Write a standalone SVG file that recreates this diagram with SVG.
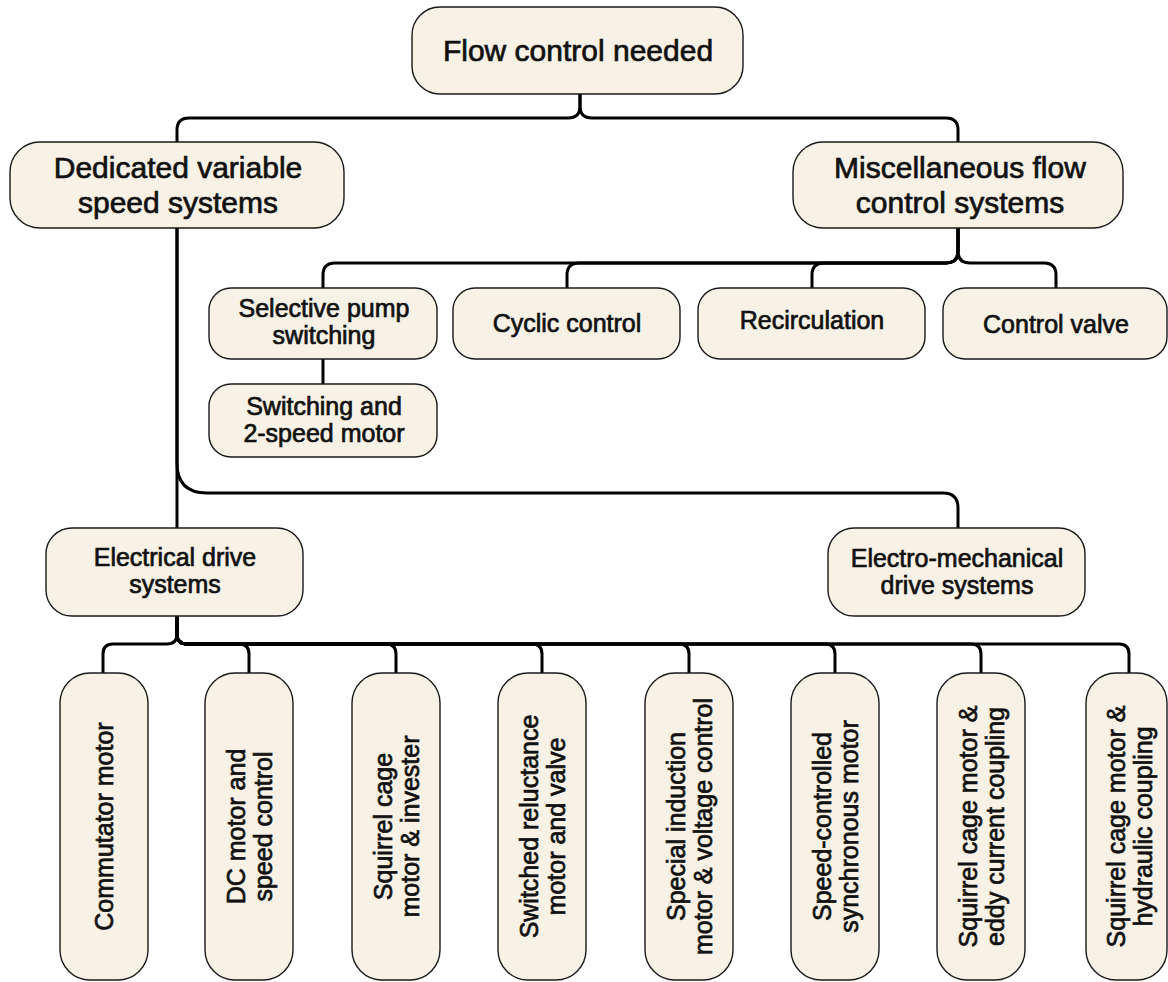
<svg xmlns="http://www.w3.org/2000/svg" width="1168" height="982" viewBox="0 0 1168 982">
  <style>
    .box { fill: #F8F2E6; stroke: #1a1a1a; stroke-width: 1.4; }
    .edge { fill: none; stroke: #000; stroke-width: 3; stroke-linejoin: round; }
    text { font-family: "Liberation Sans", Arial, Helvetica, sans-serif; fill: #111; text-anchor: middle; stroke: #111; stroke-width: 0.7; }
    .l1 { font-size: 30px; }
    .l2 { font-size: 25px; }
  </style>
  <rect width="1168" height="982" fill="#fff"/>

  <!-- connectors -->
  <g id="connectors" class="edge">
    <!-- root to the two main branches -->
    <path d="M580 94 V106 Q580 118 568 118 H189 Q177 118 177 130 V142"/>
    <path d="M580 94 V106 Q580 118 592 118 H946 Q958 118 958 130 V142"/>
    <!-- dedicated variable speed systems -->
    <path d="M177 228 V528"/>
    <path d="M177 228 V463 Q177 493 207 493 H943 Q958 493 958 508 V528"/>
    <!-- miscellaneous flow control systems -->
    <path d="M958 228 V251 Q958 263 946 263 H335 Q323 263 323 275 V288"/>
    <path d="M958 228 V251 Q958 263 946 263 H579 Q567 263 567 275 V288"/>
    <path d="M958 228 V251 Q958 263 946 263 H824 Q812 263 812 275 V288"/>
    <path d="M958 228 V251 Q958 263 970 263 H1044 Q1056 263 1056 275 V288"/>
    <path d="M323 359 V384"/>
    <!-- electrical drive systems -->
    <path d="M177 616 V634 Q177 644 167 644 H113 Q103 644 103 654 V673"/>
    <path d="M177 616 V634 Q177 644 187 644 H239 Q249 644 249 654 V673"/>
    <path d="M177 616 V634 Q177 644 187 644 H386 Q396 644 396 654 V673"/>
    <path d="M177 616 V634 Q177 644 187 644 H532 Q542 644 542 654 V673"/>
    <path d="M177 616 V634 Q177 644 187 644 H679 Q689 644 689 654 V673"/>
    <path d="M177 616 V634 Q177 644 187 644 H825 Q835 644 835 654 V673"/>
    <path d="M177 616 V634 Q177 644 187 644 H971 Q981 644 981 654 V673"/>
    <path d="M177 616 V634 Q177 644 187 644 H1119 Q1129 644 1129 654 V673"/>
  </g>

  <!-- level 0 -->
  <g id="flow-control-needed">
    <rect class="box" x="412" y="7" width="331" height="87" rx="28"/>
    <text class="l1" x="578" y="61">Flow control needed</text>
  </g>

  <!-- level 1 -->
  <g id="dedicated-variable-speed">
    <rect class="box" x="10" y="142" width="334" height="86" rx="30"/>
    <text class="l1" x="178" y="178">Dedicated variable</text>
    <text class="l1" x="178" y="213">speed systems</text>
  </g>
  <g id="misc-flow-control">
    <rect class="box" x="793" y="142" width="330" height="86" rx="30"/>
    <text class="l1" x="960" y="178">Miscellaneous flow</text>
    <text class="l1" x="960" y="213">control systems</text>
  </g>

  <!-- miscellaneous methods -->
  <g id="selective-pump-switching">
    <rect class="box" x="209" y="288" width="228" height="71" rx="22"/>
    <text class="l2" x="324" y="317">Selective pump</text>
    <text class="l2" x="324" y="344">switching</text>
  </g>
  <g id="switching-2-speed">
    <rect class="box" x="209" y="384" width="228" height="73" rx="22"/>
    <text class="l2" x="324" y="415">Switching and</text>
    <text class="l2" x="324" y="442">2-speed motor</text>
  </g>
  <g id="cyclic-control">
    <rect class="box" x="453" y="288" width="227" height="71" rx="22"/>
    <text class="l2" x="567" y="332">Cyclic control</text>
  </g>
  <g id="recirculation">
    <rect class="box" x="698" y="288" width="227" height="71" rx="22"/>
    <text class="l2" x="812" y="329">Recirculation</text>
  </g>
  <g id="control-valve">
    <rect class="box" x="943" y="288" width="224" height="71" rx="22"/>
    <text class="l2" x="1056" y="333">Control valve</text>
  </g>

  <!-- drive system families -->
  <g id="electrical-drive">
    <rect class="box" x="46" y="528" width="257" height="88" rx="26"/>
    <text class="l2" x="175" y="566">Electrical drive</text>
    <text class="l2" x="175" y="593">systems</text>
  </g>
  <g id="electro-mechanical-drive">
    <rect class="box" x="828" y="528" width="257" height="88" rx="26"/>
    <text class="l2" x="957" y="567">Electro-mechanical</text>
    <text class="l2" x="957" y="594">drive systems</text>
  </g>

  <!-- drive types (vertical labels) -->
  <g id="commutator-motor">
    <rect class="box" x="60" y="673" width="88" height="307" rx="30"/>
    <text class="l2" transform="translate(104 826.5) rotate(-90)" x="0" y="9">Commutator motor</text>
  </g>
  <g id="dc-motor">
    <rect class="box" x="205" y="673" width="88" height="307" rx="30"/>
    <g transform="translate(249 826.5) rotate(-90)">
      <text class="l2" x="0" y="-4.5">DC motor and</text>
      <text class="l2" x="0" y="22.5">speed control</text>
    </g>
  </g>
  <g id="squirrel-cage-inverter">
    <rect class="box" x="352" y="673" width="88" height="307" rx="30"/>
    <g transform="translate(396 826.5) rotate(-90)">
      <text class="l2" x="0" y="-4.5">Squirrel cage</text>
      <text class="l2" x="0" y="22.5">motor &amp; invester</text>
    </g>
  </g>
  <g id="switched-reluctance">
    <rect class="box" x="498" y="673" width="88" height="307" rx="30"/>
    <g transform="translate(542 826.5) rotate(-90)">
      <text class="l2" x="0" y="-4.5">Switched reluctance</text>
      <text class="l2" x="0" y="22.5">motor and valve</text>
    </g>
  </g>
  <g id="special-induction">
    <rect class="box" x="645" y="673" width="88" height="307" rx="30"/>
    <g transform="translate(689 826.5) rotate(-90)">
      <text class="l2" x="0" y="-4.5">Special induction</text>
      <text class="l2" x="0" y="22.5">motor &amp; voltage control</text>
    </g>
  </g>
  <g id="synchronous-motor">
    <rect class="box" x="791" y="673" width="88" height="307" rx="30"/>
    <g transform="translate(835 826.5) rotate(-90)">
      <text class="l2" x="0" y="-4.5">Speed-controlled</text>
      <text class="l2" x="0" y="22.5">synchronous motor</text>
    </g>
  </g>
  <g id="eddy-current-coupling">
    <rect class="box" x="937" y="673" width="88" height="307" rx="30"/>
    <g transform="translate(981 826.5) rotate(-90)">
      <text class="l2" x="0" y="-4.5">Squirrel cage motor &amp;</text>
      <text class="l2" x="0" y="22.5">eddy current coupling</text>
    </g>
  </g>
  <g id="hydraulic-coupling">
    <rect class="box" x="1086" y="673" width="81" height="307" rx="30"/>
    <g transform="translate(1129 826.5) rotate(-90)">
      <text class="l2" x="0" y="-4.5">Squirrel cage motor &amp;</text>
      <text class="l2" x="0" y="22.5">hydraulic coupling</text>
    </g>
  </g>
</svg>
